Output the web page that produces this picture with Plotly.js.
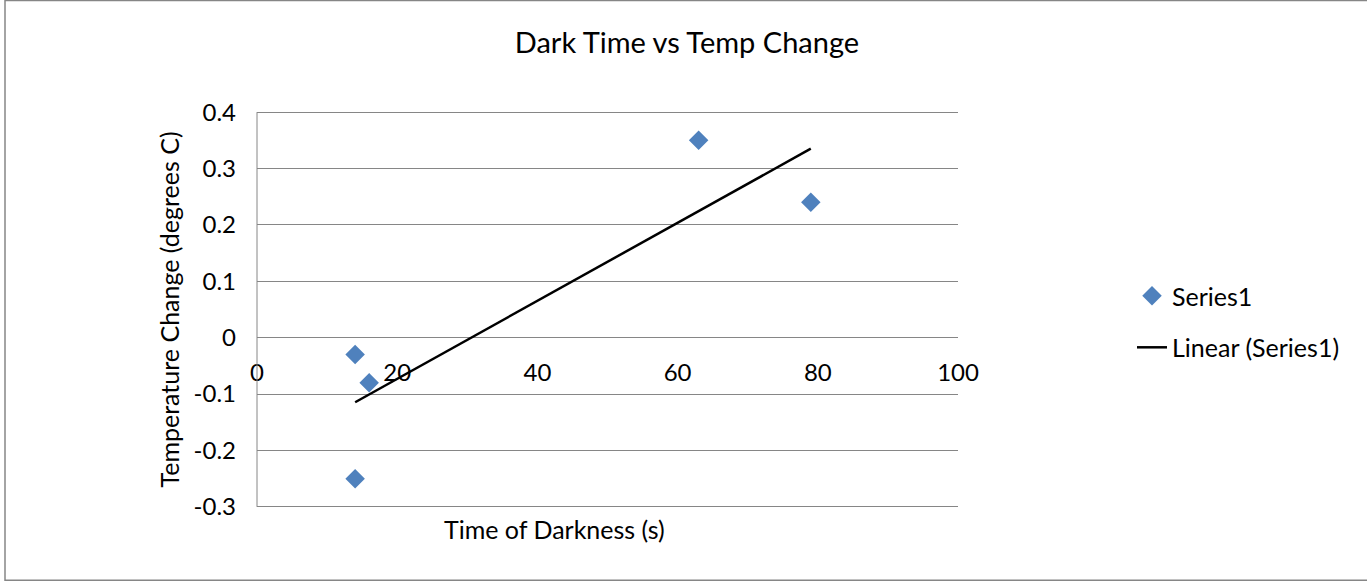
<!DOCTYPE html>
<html>
<head>
<meta charset="utf-8">
<script src="https://cdn.plot.ly/plotly-3.0.1.min.js"></script>
<style>
  html, body { margin: 0; padding: 0; background: #ffffff; }
  #chart { width: 1367px; height: 581px; }
</style>
</head>
<body>
<div id="chart"></div>
<script>
// ---- data ----
const darkTime = [14, 16, 14, 63, 79];            // Time of Darkness (s)
const tempChange = [-0.03, -0.08, -0.25, 0.35, 0.24]; // Temperature Change (degrees C)

const xTickVals = [0, 20, 40, 60, 80, 100];
const xTickText = ['0', '20', '40', '60', '80', '100'];
const yTickVals = [-0.3, -0.2, -0.1, 0, 0.1, 0.2, 0.3, 0.4];
const yTickText = ['-0.3', '-0.2', '-0.1', '0', '0.1', '0.2', '0.3', '0.4'];

const chartTitle = 'Dark Time vs Temp Change';
const xTitle = 'Time of Darkness (s)';
const yTitle = 'Temperature Change (degrees C)';
const seriesName = 'Series1';
const trendName = 'Linear (Series1)';

// ---- least-squares linear trendline (as Excel's "Linear" trendline) ----
const n = darkTime.length;
let mx = 0, my = 0;
for (let i = 0; i < n; i++) { mx += darkTime[i]; my += tempChange[i]; }
mx /= n; my /= n;
let sxy = 0, sxx = 0;
for (let i = 0; i < n; i++) {
  sxy += (darkTime[i] - mx) * (tempChange[i] - my);
  sxx += (darkTime[i] - mx) * (darkTime[i] - mx);
}
const slope = sxy / sxx;
const intercept = my - slope * mx;
const xMin = Math.min(...darkTime), xMax = Math.max(...darkTime);
const trendX = [xMin, xMax];
const trendY = trendX.map(x => intercept + slope * x);

const FONT = 'Lato, "Open Sans", sans-serif';
const GRID = '#868686';

// small range padding so that the gridlines at 0.4 and -0.3 are kept
const yLo = -0.3, yHi = 0.4, yPad = 0.002;

const traces = [
  {
    x: darkTime, y: tempChange, type: 'scatter', mode: 'markers', name: seriesName,
    legendgroup: 'a',
    marker: { symbol: 'diamond', size: 15, color: '#4F81BD' },
    hoverinfo: 'x+y'
  },
  {
    x: trendX, y: trendY, type: 'scatter', mode: 'lines', name: trendName,
    legendgroup: 'b',
    line: { color: '#000000', width: 2.5 },
    hoverinfo: 'skip'
  }
];

const layout = {
  width: 1367, height: 581,
  margin: { l: 257, r: 409, t: 111, b: 73 },
  paper_bgcolor: '#ffffff', plot_bgcolor: '#ffffff',
  font: { family: FONT, size: 24, color: '#000000' },
  title: {
    text: chartTitle, font: { family: FONT, size: 29, color: '#000000' },
    x: 0.5025, xanchor: 'center', xref: 'container',
    y: 1 - 43 / 581, yanchor: 'middle', yref: 'container'
  },
  xaxis: {
    range: [0, 100],
    tickvals: xTickVals, ticktext: xTickText,
    anchor: 'free', position: (0 - (yLo - yPad)) / ((yHi + yPad) - (yLo - yPad)),
    showline: false,
    showgrid: false, zeroline: false, ticks: '',
    ticklabelstandoff: 18,
    tickfont: { family: FONT, size: 24, color: '#000000' }
  },
  yaxis: {
    range: [yLo - yPad, yHi + yPad],
    tickvals: yTickVals, ticktext: yTickText,
    showline: false,
    showgrid: true, gridcolor: GRID, gridwidth: 1,
    zeroline: true, zerolinecolor: GRID, zerolinewidth: 1,
    ticks: '',
    ticklabelstandoff: 20,
    tickfont: { family: FONT, size: 24, color: '#000000' }
  },
  showlegend: true,
  legend: {
    x: (1132 - 257) / 701, xanchor: 'left',
    y: (507 - 321.5) / 395, yanchor: 'middle',
    traceorder: 'grouped', tracegroupgap: 16,
    bgcolor: 'rgba(0,0,0,0)',
    font: { family: FONT, size: 25, color: '#000000' }
  },
  annotations: [
    {
      text: xTitle, xref: 'paper', yref: 'paper',
      x: (554 - 257) / 701, y: (507 - 528) / 395,
      xanchor: 'center', yanchor: 'middle', showarrow: false,
      font: { family: FONT, size: 25, color: '#000000' }
    },
    {
      text: yTitle, xref: 'paper', yref: 'paper', textangle: -90,
      x: (168 - 257) / 701, y: 0.5,
      xanchor: 'center', yanchor: 'middle', showarrow: false,
      font: { family: FONT, size: 25, color: '#000000' }
    }
  ],
  shapes: [
    {
      // y-axis line along the left edge of the plot area
      type: 'line', xref: 'paper', yref: 'y', layer: 'above',
      x0: 0, x1: 0, y0: yLo, y1: yHi,
      line: { color: GRID, width: 1 }
    },
    {
      // chart-area border
      type: 'rect', xref: 'paper', yref: 'paper', layer: 'below',
      x0: (5 - 257) / 701, x1: (1368 - 257) / 701,
      y0: (507 - 579) / 395, y1: (507 - 2) / 395,
      line: { color: GRID, width: 1.5 }, fillcolor: 'rgba(0,0,0,0)'
    }
  ]
};

Plotly.newPlot('chart', traces, layout, { displayModeBar: false, responsive: false });
</script>
</body>
</html>
